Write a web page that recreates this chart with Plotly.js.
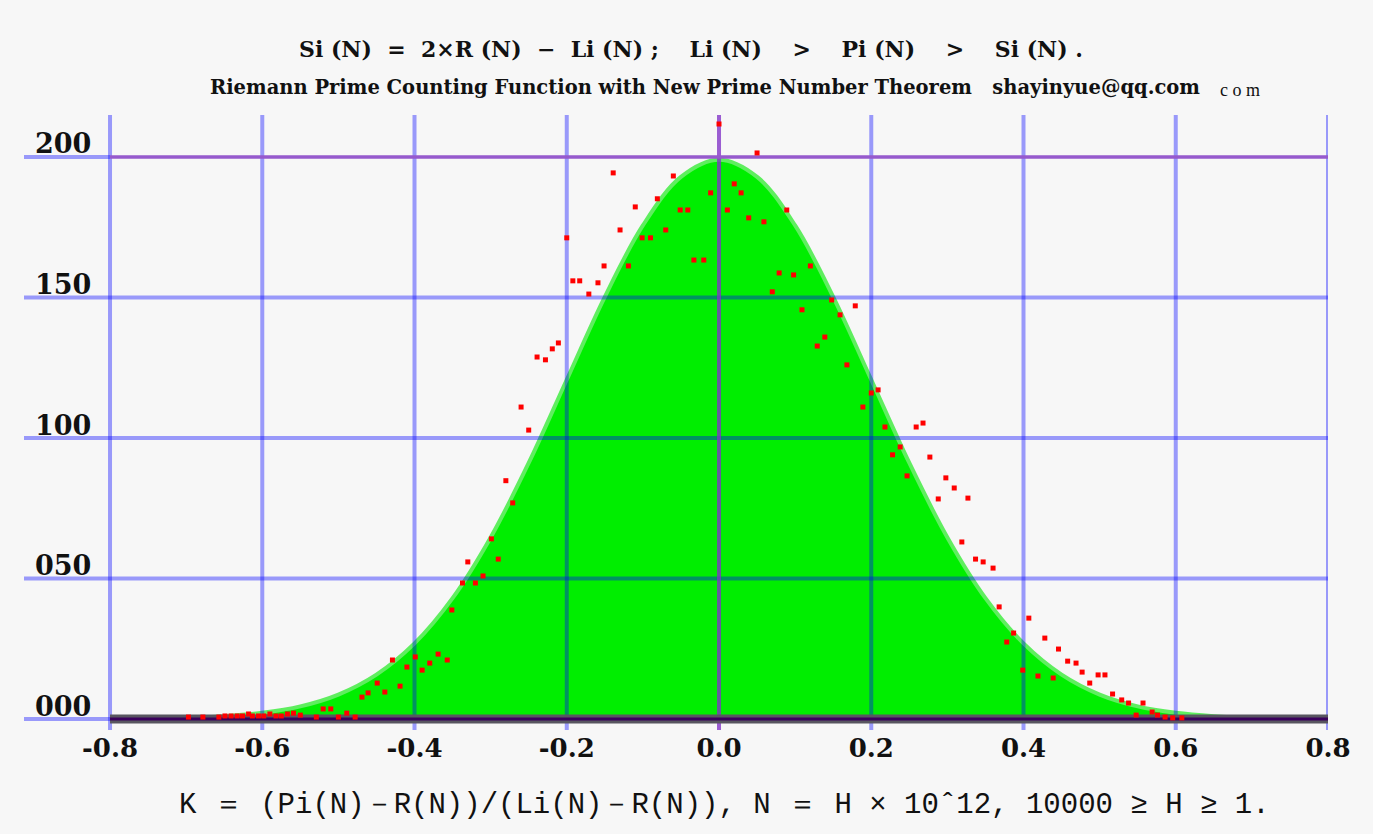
<!DOCTYPE html>
<html>
<head>
<meta charset="utf-8">
<script src="https://cdn.plot.ly/plotly-3.0.1.min.js"></script>
<style>html,body{margin:0;padding:0;background:#f7f7f7;}</style>
</head>
<body>
<div id="chart" style="width:1373px;height:834px;"></div>
<script>
// Smooth envelope (green area)
const curveX = [-0.8,-0.75,-0.7,-0.65,-0.6,-0.55,-0.5,-0.45,-0.4,-0.35,-0.3,-0.25,-0.2,-0.15,-0.1,-0.05,0,
                0.05,0.1,0.15,0.2,0.25,0.3,0.35,0.4,0.45,0.5,0.55,0.6,0.65,0.7,0.75,0.8];
const curveY = [0.1,0.2,0.4,1.0,2.2,4.5,8.7,15.8,26.9,43.0,64.6,91.1,120.7,150.2,175.6,192.9,199,
                192.9,175.6,150.2,120.7,91.1,64.6,43.0,26.9,15.8,8.7,4.5,2.2,1.0,0.4,0.2,0.1];

// Red sample points K
const pointsX = [-0.697,-0.678,-0.657,-0.649,-0.641,-0.633,-0.626,-0.618,-0.613,-0.605,-0.598,-0.590,-0.582,-0.575,-0.567,-0.559,-0.550,-0.529,-0.520,-0.510,-0.500,-0.489,-0.478,
  -0.469,-0.461,-0.449,-0.439,-0.429,-0.419,-0.410,-0.399,-0.390,-0.380,-0.369,-0.357,-0.351,-0.337,-0.330,-0.320,-0.310,-0.299,-0.290,-0.280,-0.271,-0.260,-0.250,-0.239,-0.228,-0.219,-0.211,
  -0.200,-0.192,-0.183,-0.171,-0.159,-0.151,-0.139,-0.130,-0.119,-0.110,-0.101,-0.090,-0.081,-0.070,-0.060,-0.051,-0.041,-0.033,-0.020,-0.011,
  0.000,0.011,0.020,0.029,0.039,0.050,0.059,0.070,0.079,0.089,0.098,0.109,0.120,0.129,0.139,0.148,0.159,0.168,0.179,0.189,
  0.200,0.209,0.218,0.228,0.238,0.247,0.259,0.268,0.277,0.288,0.298,0.309,0.319,0.327,0.337,0.347,0.360,0.368,0.378,0.387,
  0.399,0.407,0.419,0.428,0.439,0.446,0.458,0.469,0.477,0.487,0.498,0.507,0.517,0.529,0.538,0.548,0.557,0.569,0.576,0.586,0.596,0.608];
const pointsY = [0.7,0.7,0.7,1.1,1.1,1.1,1.1,1.8,1.1,1.1,1.1,1.8,1.1,1.1,1.8,2.1,1.4,0.7,3.6,3.6,0.7,2.1,0.7,
  7.8,9.3,12.8,9.6,21.0,11.7,18.5,22.1,17.4,19.9,23.1,21.0,38.8,48.4,55.9,48.4,50.9,64.1,56.9,84.8,76.9,111.0,102.8,128.8,127.8,131.7,133.8,
  171.2,155.9,155.9,151.2,155.2,161.2,194.3,174.0,161.2,182.2,171.2,171.2,185.1,174.0,193.2,181.1,181.1,163.3,163.3,187.2,
  211.7,181.1,190.4,187.2,178.3,201.4,176.9,152.0,158.7,181.1,158.0,145.6,161.2,132.7,135.9,149.1,143.8,126.0,147.0,111.0,
  116.0,117.1,103.9,94.0,96.8,86.5,103.9,105.3,93.2,78.3,85.8,82.2,63.0,78.6,56.9,55.9,53.7,39.9,27.4,30.6,
  17.4,35.9,15.3,28.8,14.6,24.9,20.6,19.9,16.7,12.8,15.7,15.7,8.9,6.8,5.7,1.4,5.7,2.5,1.4,0.7,0.4,0.4];

const xTickVals = [-0.8,-0.6,-0.4,-0.2,0,0.2,0.4,0.6,0.8];
const xTickText = ['-0.8','-0.6','-0.4','-0.2','0.0','0.2','0.4','0.6','0.8'];
const yTickVals = [0,50,100,150,200];
const yTickText = ['000','050','100','150','200'];

const titleLine1 = 'Si (N)  =  2×R (N)  −  Li (N) ;    Li (N)    >    Pi (N)    >    Si (N) .';
const titleLine2 = 'Riemann Prime Counting Function with New Prime Number Theorem   shayinyue@qq.com';
const titleTail = 'c o m';
const xTitle = 'K ＝ (Pi(N)－R(N))/(Li(N)－R(N)), N ＝ H × 10ˆ12, 10000 ≥ H ≥ 1.';

const xRange = [-0.913, 0.8];
const yRange = [-3.9, 214.9];

const GRID = 'rgba(0,0,255,0.38)';
const PURPLE = 'rgba(130,50,200,0.78)';

function vLines(vals) {
  const x = [], y = [];
  vals.forEach(v => { x.push(v, v, null); y.push(yRange[0], yRange[1], null); });
  return {x, y};
}
function hLines(vals, x0, x1) {
  const x = [], y = [];
  vals.forEach(v => { x.push(x0, x1, null); y.push(v, v, null); });
  return {x, y};
}

const blueV = vLines(xTickVals.filter(v => v !== 0));
const blueH = hLines(yTickVals.filter(v => v !== 0 && v !== 200), xRange[0], xTickVals[xTickVals.length-1]);
const blueHExt = hLines([0, 200], xRange[0], xTickVals[0]);
const purpleV = vLines([0]);
const purpleH = hLines([200], xTickVals[0], xTickVals[xTickVals.length-1]);
const baseH = hLines([0], xTickVals[0], xTickVals[xTickVals.length-1]);

const traces = [
  {x: curveX, y: curveY, type: 'scatter', mode: 'lines', fill: 'tozeroy',
   fillcolor: 'rgb(0,238,0)', line: {shape: 'spline', color: 'rgb(95,238,95)', width: 4}, hoverinfo: 'skip'},
  {x: blueV.x, y: blueV.y, type: 'scatter', mode: 'lines', line: {color: GRID, width: 4}, hoverinfo: 'skip'},
  {x: blueH.x, y: blueH.y, type: 'scatter', mode: 'lines', line: {color: GRID, width: 4}, hoverinfo: 'skip'},
  {x: blueHExt.x, y: blueHExt.y, type: 'scatter', mode: 'lines', line: {color: GRID, width: 4}, hoverinfo: 'skip'},
  {x: purpleV.x, y: purpleV.y, type: 'scatter', mode: 'lines', line: {color: PURPLE, width: 4}, hoverinfo: 'skip'},
  {x: purpleH.x, y: purpleH.y, type: 'scatter', mode: 'lines', line: {color: 'rgb(150,90,205)', width: 3.5}, hoverinfo: 'skip'},
  {x: baseH.x, y: baseH.y, type: 'scatter', mode: 'lines', line: {color: 'rgb(88,86,96)', width: 9}, hoverinfo: 'skip'},
  {x: baseH.x, y: baseH.y, type: 'scatter', mode: 'lines', line: {color: 'rgb(58,0,92)', width: 3}, hoverinfo: 'skip'},
  {x: pointsX, y: pointsY, type: 'scatter', mode: 'markers', cliponaxis: false,
   marker: {symbol: 'square', size: 5, color: 'rgb(255,0,0)', line: {width: 0}}}
];

const serifBold = {family: 'DejaVu Serif, Liberation Serif, serif', color: '#111', weight: 'bold'};

const layout = {
  width: 1373, height: 834,
  margin: {l: 24, r: 45, t: 115, b: 104},
  paper_bgcolor: '#f7f7f7', plot_bgcolor: '#f7f7f7',
  showlegend: false,
  title: {text: titleLine1, x: 691/1373, xanchor: 'center', y: 1 - 49/834, yanchor: 'middle',
          xref: 'container', yref: 'container',
          font: Object.assign({size: 22}, serifBold)},
  xaxis: {range: xRange, tickvals: xTickVals, ticktext: xTickText, showgrid: false, zeroline: false,
          showline: false, ticks: '', tickfont: Object.assign({size: 26}, serifBold), fixedrange: true},
  yaxis: {range: yRange, tickvals: yTickVals, ticktext: yTickText, showgrid: false, zeroline: false,
          showline: false, ticks: '', ticklabelposition: 'inside top', ticklabelstandoff: 8,
          ticklabelshift: 6,
          tickfont: Object.assign({size: 27}, serifBold), fixedrange: true},
  annotations: [
    {text: titleLine2, xref: 'paper', yref: 'paper', x: (705-24)/1304, y: (730-87)/615,
     xanchor: 'center', yanchor: 'middle', showarrow: false, font: Object.assign({size: 19.5}, serifBold)},
    {text: titleTail, xref: 'paper', yref: 'paper', x: (1240-24)/1304, y: (730-90)/615,
     xanchor: 'center', yanchor: 'middle', showarrow: false,
     font: {family: 'Liberation Serif, serif', size: 18, color: '#111'}},
    {text: xTitle, xref: 'paper', yref: 'paper', x: (725-24)/1304, y: (730-805)/615,
     xanchor: 'center', yanchor: 'middle', showarrow: false,
     font: {family: 'Liberation Mono, DejaVu Sans Mono, monospace', size: 29, color: '#111'}}
  ]
};

Plotly.newPlot('chart', traces, layout, {displayModeBar: false, staticPlot: true});
</script>
</body>
</html>
